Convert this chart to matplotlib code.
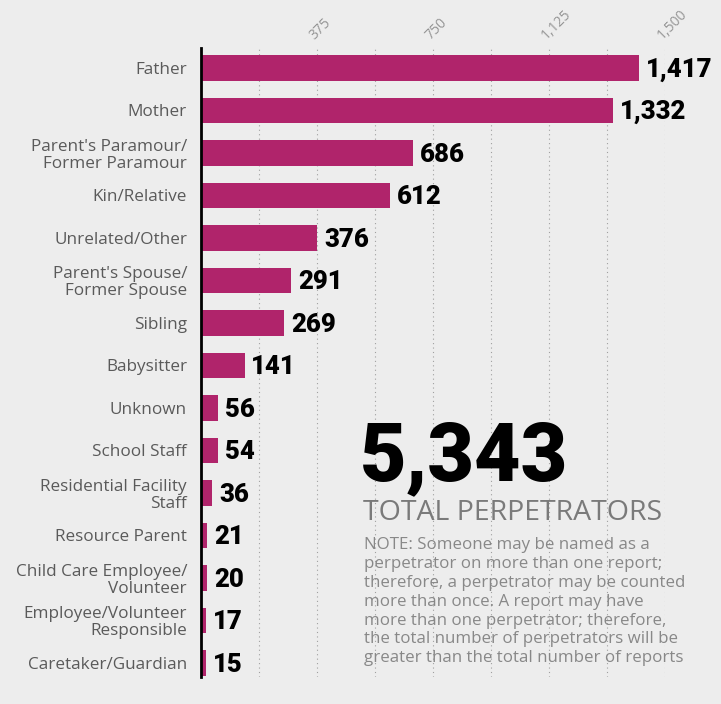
import numpy as np
import matplotlib.pyplot as plt

categories = ["Father", "Mother", "Parent's Paramour/\nFormer Paramour", "Kin/Relative",
              "Unrelated/Other", "Parent's Spouse/\nFormer Spouse", "Sibling", "Babysitter",
              "Unknown", "School Staff", "Residential Facility\nStaff", "Resource Parent",
              "Child Care Employee/\nVolunteer", "Employee/Volunteer\nResponsible",
              "Caretaker/Guardian"]
counts = [1417, 1332, 686, 612, 376, 291, 269, 141, 56, 54, 36, 21, 20, 17, 15]
tick_vals = [375, 750, 1125, 1500]
total = "5,343"

bg = "#ededed"
bar_col = "#b0246b"
plt.rcParams['font.family'] = ['Open Sans', 'DejaVu Sans']
heavy = ['Roboto', 'DejaVu Sans']

fig = plt.figure(figsize=(7.21, 7.04), dpi=100, facecolor=bg)
W, H = 721, 704
ax = fig.add_axes([201 / W, 1 - 677 / H, (665 - 201) / W, (677 - 48) / H])
ax.set_facecolor(bg)

y = np.arange(len(categories))
ax.barh(y, counts, height=0.59, color=bar_col, zorder=2)
ax.set_xlim(0, 1500)
ax.set_ylim(14.33, -0.47)

for v in np.arange(187.5, 1501, 187.5):
    ax.axvline(v, color="#a0a0a0", lw=0.8, ls=(0, (1, 3)), zorder=1)

for yi, c in zip(y, counts):
    ax.text(c + 22, yi + 0.04, f"{c:,}", va="center", ha="left", fontsize=18.5,
            fontweight="black", color="black", zorder=3, family=heavy)

ax.set_yticks(y)
ax.set_yticklabels(categories, fontsize=12.3, color="#5a5a5a", linespacing=1.05)
ax.tick_params(axis="y", length=0, pad=10)
ax.xaxis.tick_top()
ax.set_xticks(tick_vals)
ax.set_xticklabels([f"{t:,}" for t in tick_vals], rotation=45, fontsize=10,
                   color="#959595", ha="left", va="bottom", rotation_mode="anchor")
ax.tick_params(axis="x", length=0, pad=4)
for s in ["top", "right", "bottom"]:
    ax.spines[s].set_visible(False)
ax.spines["left"].set_color("black")
ax.spines["left"].set_linewidth(2)
ax.spines["left"].set_zorder(4)

fig.text(360 / W, 1 - 458 / H, total, fontsize=58, fontweight="black", color="black",
         va="center", ha="left", family=heavy)
fig.text(363 / W, 1 - 513 / H, "TOTAL PERPETRATORS", fontsize=20.5, color="#7a7a7a",
         va="center", ha="left")
note = ("NOTE: Someone may be named as a\n"
        "perpetrator on more than one report;\n"
        "therefore, a perpetrator may be counted\n"
        "more than once. A report may have\n"
        "more than one perpetrator; therefore,\n"
        "the total number of perpetrators will be\n"
        "greater than the total number of reports")
fig.text(364 / W, 1 - 537 / H, note, fontsize=12.2, color="#888888", va="top",
         ha="left", linespacing=1.24)

fig.savefig("out.png", dpi=100, facecolor=bg)
